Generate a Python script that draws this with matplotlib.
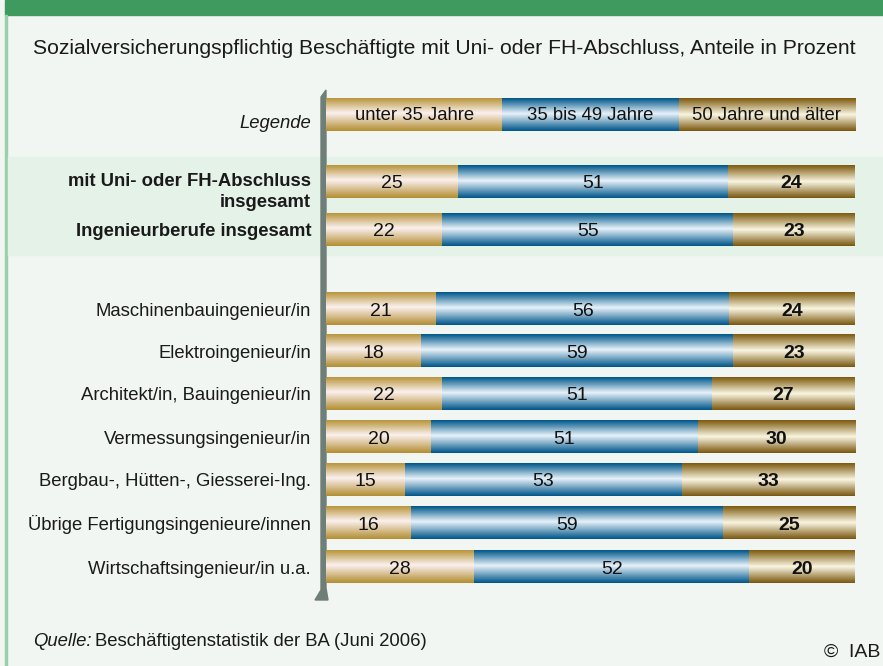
import numpy as np
import matplotlib
matplotlib.use("Agg")
import matplotlib.pyplot as plt
from matplotlib.colors import LinearSegmentedColormap
from matplotlib.patches import Rectangle, Polygon

plt.rcParams['font.family'] = ['Liberation Sans', 'DejaVu Sans']

# data
categories = [
    "mit Uni- oder FH-Abschluss\ninsgesamt",
    "Ingenieurberufe insgesamt",
    "Maschinenbauingenieur/in",
    "Elektroingenieur/in",
    "Architekt/in, Bauingenieur/in",
    "Vermessungsingenieur/in",
    "Bergbau-, Hütten-, Giesserei-Ing.",
    "Übrige Fertigungsingenieure/innen",
    "Wirtschaftsingenieur/in u.a.",
]
unter_35 = [25, 22, 21, 18, 22, 20, 15, 16, 28]
von_35_49 = [51, 55, 56, 59, 51, 51, 53, 59, 52]
ab_50 = [24, 23, 24, 23, 27, 30, 33, 25, 20]
legend_labels = ["unter 35 Jahre", "35 bis 49 Jahre", "50 Jahre und älter"]
bold_rows = [0, 1]

# layout (pixel rows of the original picture)
row_y = [182, 230, 309, 351, 394, 437, 480, 523, 567]
legend_y = 115
bar_h = 33

W, H = 883, 666
fig = plt.figure(figsize=(W / 100, H / 100), dpi=100, facecolor="#F1F6F2")

# background decoration axes in pixel units
bg = fig.add_axes([0, 0, 1, 1])
bg.set_xlim(0, W)
bg.set_ylim(H, 0)
bg.axis("off")
bg.add_patch(Rectangle((5, 0), W, 15, color="#3F9A5F", zorder=1))
bg.add_patch(Rectangle((5, 15), 2, H, color="#9ACFA9", zorder=1))
bg.add_patch(Rectangle((8, 157), W, 98, color="#E5F2E8", zorder=1))
# axis post with bevelled top and foot
bg.add_patch(Polygon([(321, 97), (326, 90), (326, 588), (328, 600), (315, 600), (321, 590)],
                     closed=True, color="#6F7E77", zorder=2))

bg.text(33, 48, "Sozialversicherungspflichtig Beschäftigte mit Uni- oder FH-Abschluss, Anteile in Prozent",
        fontsize=15.2, color="#1a1a1a", va="center", ha="left")

bg.text(311, legend_y + 8, "Legende", fontsize=13.3, style="italic", ha="right", va="center", color="#1a1a1a")
for i, (name, y) in enumerate(zip(categories, row_y)):
    bg.text(311, y + (2 if i else 10), name, fontsize=13.3, ha="right", va="center",
            weight="bold" if i in bold_rows else "normal", color="#1a1a1a", linespacing=1.3)

bg.text(33, 641, "Quelle:", fontsize=13.3, style="italic", ha="left", va="center", color="#1a1a1a")
bg.text(95, 641, "Beschäftigtenstatistik der BA (Juni 2006)", fontsize=13.3, ha="left", va="center", color="#1a1a1a")
bg.text(880, 652, "©  IAB", fontsize=14, ha="right", va="center", color="#1a1a1a")

# bar axes
x0, x1 = 326, 855
ax = fig.add_axes([x0 / W, 0, (x1 - x0) / W, 1])
ax.set_xlim(0, 100)
ax.set_ylim(H, 0)
ax.axis("off")
ax.patch.set_alpha(0)

cmaps = [
    LinearSegmentedColormap.from_list("tan", [(0, "#B8953C"), (0.45, "#FBF1EF"), (1, "#B38E33")]),
    LinearSegmentedColormap.from_list("blue", [(0, "#00578A"), (0.47, "#E8F2FA"), (1, "#00578A")]),
    LinearSegmentedColormap.from_list("gold", [(0, "#7D5B10"), (0.5, "#FAF6E2"), (1, "#7A5810")]),
]
grad = np.linspace(0, 1, 64).reshape(-1, 1)


def draw_bar(y, vals, labels, bold_last):
    total = sum(vals)
    left = 0
    for k, (v, lab) in enumerate(zip(vals, labels)):
        w = v / total * 100
        ax.imshow(grad, cmap=cmaps[k], aspect="auto", origin="upper",
                  extent=(left, left + w, y + bar_h / 2, y - bar_h / 2), zorder=3)
        ax.text(left + w / 2, y + 2 if bold_last else y, lab, ha="center", va="center",
                fontsize=14 if bold_last else 13.3,
                weight="bold" if (bold_last and k == 2) else "normal", color="#111111", zorder=4)
        left += w


draw_bar(legend_y, [1, 1, 1], legend_labels, False)
for y, a, b, c in zip(row_y, unter_35, von_35_49, ab_50):
    draw_bar(y, [a, b, c], [str(a), str(b), str(c)], True)

ax.set_xlim(0, 100)
ax.set_ylim(H, 0)

fig.savefig("out.png", dpi=100, facecolor=fig.get_facecolor())
